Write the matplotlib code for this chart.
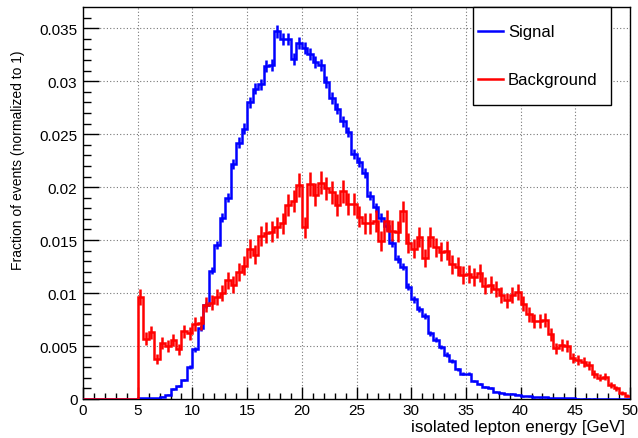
import numpy as np
import matplotlib
matplotlib.use("Agg")
import matplotlib.pyplot as plt
from matplotlib.patches import Rectangle
from matplotlib.lines import Line2D

plt.rcParams['font.family'] = ['Liberation Sans', 'DejaVu Sans']

# ---------------- data ----------------
bin_edges = np.linspace(0, 50, 101)   # 100 bins of 0.5 GeV

signal = [
    0, 0, 0, 0, 0, 0, 0, 0, 0, 0,
    0.00005, 0.00005, 0.00005, 0.0001, 0.0002, 0.0004, 0.0009, 0.0012, 0.0018, 0.0030,
    0.0047, 0.0067, 0.0089, 0.0121, 0.0145, 0.0171, 0.0190, 0.0222, 0.0242, 0.0255,
    0.0280, 0.0293, 0.0297, 0.0314, 0.0315, 0.0347, 0.0340, 0.0340, 0.0321, 0.0336,
    0.0331, 0.0326, 0.0318, 0.0315, 0.0299, 0.0284, 0.0274, 0.0262, 0.0252, 0.0231,
    0.0224, 0.0213, 0.0192, 0.0181, 0.0171, 0.0163, 0.0147, 0.0132, 0.0125, 0.0106,
    0.0094, 0.0085, 0.0078, 0.0062, 0.0056, 0.0049, 0.0042, 0.0036, 0.0028, 0.0024,
    0.0024, 0.0017, 0.0014, 0.0011, 0.0010, 0.0007, 0.0006, 0.0005, 0.0005, 0.0004,
    0.00025, 0.00025, 0.00015, 0.00015, 0.00015, 0.0001, 0.0001, 0.0001, 0.00005, 0.00005,
    0.00003, 0.00003, 0.00003, 0.00003, 0.00002, 0.00002, 0.00002, 0.00001, 0.00001, 0.00001,
]

background = [
    0, 0, 0, 0, 0, 0, 0, 0, 0, 0,
    0.0096, 0.0057, 0.0063, 0.0038, 0.0053, 0.0050, 0.0056, 0.0047, 0.0064, 0.0062,
    0.0071, 0.0072, 0.0089, 0.0091, 0.0096, 0.0100, 0.0112, 0.0108, 0.0120, 0.0126,
    0.0142, 0.0136, 0.0154, 0.0157, 0.0158, 0.0162, 0.0166, 0.0183, 0.0187, 0.0202,
    0.0162, 0.0203, 0.0193, 0.0204, 0.0199, 0.0195, 0.0183, 0.0196, 0.0184, 0.0184,
    0.0172, 0.0166, 0.0166, 0.0168, 0.0149, 0.0168, 0.0159, 0.0158, 0.0177, 0.0147,
    0.0142, 0.0153, 0.0133, 0.0153, 0.0143, 0.0139, 0.0140, 0.0127, 0.0125, 0.0117,
    0.0118, 0.0115, 0.0119, 0.0107, 0.0108, 0.0104, 0.0098, 0.0093, 0.0098, 0.0101,
    0.0090, 0.0080, 0.0074, 0.0074, 0.0075, 0.0061, 0.0048, 0.0051, 0.0050, 0.0039,
    0.0037, 0.0035, 0.0032, 0.0024, 0.0020, 0.0021, 0.0013, 0.0010, 0.0006, 0.0003,
]

# effective event counts used for the statistical error bars
n_signal = 100000
n_background = 17000

x_ticks = [0, 5, 10, 15, 20, 25, 30, 35, 40, 45, 50]
x_tick_labels = ["0", "5", "10", "15", "20", "25", "30", "35", "40", "45", "50"]
y_ticks = [0, 0.005, 0.01, 0.015, 0.02, 0.025, 0.03, 0.035]
y_tick_labels = ["0", "0.005", "0.01", "0.015", "0.02", "0.025", "0.03", "0.035"]

series_names = ["Signal", "Background"]
x_title = "isolated lepton energy [GeV]"
y_title = "Fraction of events (normalized to 1)"

# ---------------- figure ----------------
W, H = 638, 439
fig = plt.figure(figsize=(W / 100, H / 100), dpi=100)
ax = fig.add_axes([83 / W, 1 - 400 / H, (630 - 83) / W, (400 - 8) / H])

sig = np.array(signal)
bkg = np.array(background)
centers = 0.5 * (bin_edges[:-1] + bin_edges[1:])

BLUE = (0, 0, 1)
RED = (1, 0, 0)
LW = 1.8

for vals, n, col in [(sig, n_signal, BLUE), (bkg, n_background, RED)]:
    ax.stairs(vals, bin_edges, baseline=None, color=col, lw=LW, zorder=3)
    err = np.sqrt(vals / n)
    m = vals > 0
    ax.errorbar(centers[m], vals[m], yerr=err[m], fmt='none', ecolor=col,
                elinewidth=LW, capsize=0, zorder=3)

ax.set_xlim(0, 50)
ax.set_ylim(0, 0.03700)

ax.set_xticks(x_ticks)
ax.set_xticklabels(x_tick_labels)
ax.set_yticks(y_ticks)
ax.set_yticklabels(y_tick_labels)
ax.set_xticks(np.arange(0, 50.01, 1), minor=True)
ax.set_yticks(np.arange(0, 0.0370, 0.001), minor=True)

ax.tick_params(axis='x', which='major', direction='in', length=8.5, width=1.0,
               labelsize=11, pad=3, top=False)
ax.tick_params(axis='x', which='minor', direction='in', length=4.3, width=1.0, top=False)
ax.tick_params(axis='y', which='major', direction='in', length=11.5, width=1.0,
               labelsize=11, pad=4, right=False)
ax.tick_params(axis='y', which='minor', direction='in', length=5.8, width=1.0, right=False)

ax.grid(True, which='major', color='#777777', linestyle=(0, (1, 2)), linewidth=0.8, zorder=0)
ax.set_axisbelow(True)
for s in ax.spines.values():
    s.set_linewidth(1.0)
    s.set_color('black')

fig.text(625 / W, 1 - 428 / H, x_title, ha='right', va='center', fontsize=12.2)
fig.text(18 / W, 1 - 50 / H, y_title, ha='center', va='top', rotation=90, fontsize=10)

# legend box
lx0, lx1, ly0, ly1 = 473, 611, 8, 106
fig.patches.append(Rectangle((lx0 / W, 1 - ly1 / H), (lx1 - lx0) / W, (ly1 - ly0) / H,
                             transform=fig.transFigure, facecolor='white',
                             edgecolor='black', linewidth=1.0, zorder=5))
for name, col, py in [(series_names[0], BLUE, 32), (series_names[1], RED, 80)]:
    fig.lines.append(Line2D([478 / W, 503 / W], [1 - py / H, 1 - py / H],
                            transform=fig.transFigure, color=col, lw=LW, zorder=6))
    fig.text(508 / W, 1 - py / H, name, ha='left', va='center', fontsize=12, zorder=6)

fig.savefig("out.png", dpi=100)
